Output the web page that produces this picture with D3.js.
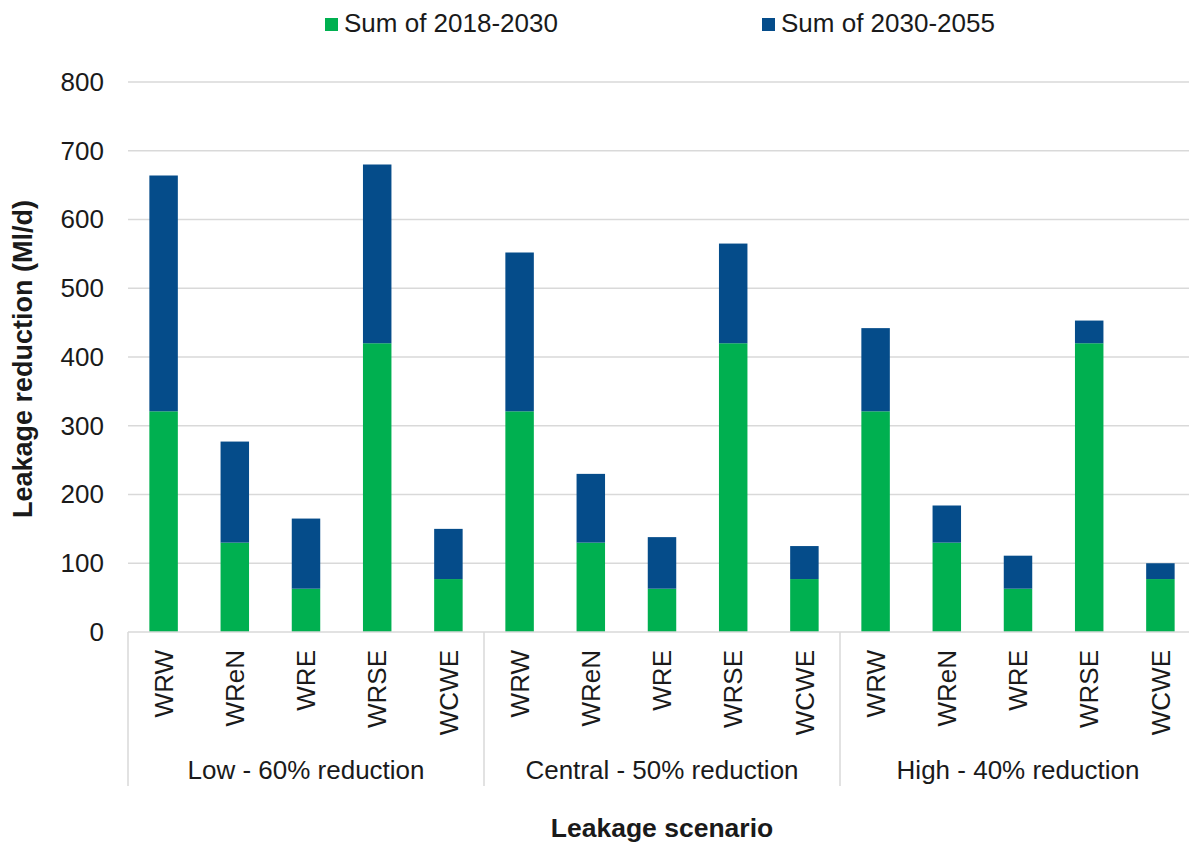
<!DOCTYPE html>
<html>
<head>
<meta charset="utf-8">
<script src="https://cdn.jsdelivr.net/npm/d3@7"></script>
<style>
  html, body { margin: 0; padding: 0; background: #ffffff; }
  svg { display: block; overflow: hidden; }
  text { font-family: "Liberation Sans", Arial, sans-serif; fill: #1a1a1a; }
</style>
</head>
<body>
<svg id="chart" width="1189" height="847"></svg>
<script>
// Leakage reduction by water resource region, grouped by scenario
const scenarios = ["Low - 60% reduction", "Central - 50% reduction", "High - 40% reduction"];
const regions = ["WRW", "WReN", "WRE", "WRSE", "WCWE"];
const seriesNames = ["Sum of 2018-2030", "Sum of 2030-2055"];

// Sum of 2018-2030 (Ml/d), same in every scenario
const sum2018to2030 = [321, 130, 63, 420, 77,
                       321, 130, 63, 420, 77,
                       321, 130, 63, 420, 77];
// Sum of 2030-2055 (Ml/d)
const sum2030to2055 = [343, 147, 102, 260, 73,
                       231, 100, 75, 145, 48,
                       121, 54, 48, 33, 23];

const yTicks = [0, 100, 200, 300, 400, 500, 600, 700, 800];
const colors = ["#00b050", "#054c8a"];

const rows = [];
scenarios.forEach((s, gi) => {
  regions.forEach((r, ri) => {
    const i = gi * regions.length + ri;
    rows.push({ key: s + "|" + r, scenario: s, region: r,
                [seriesNames[0]]: sum2018to2030[i], [seriesNames[1]]: sum2030to2055[i] });
  });
});

const svg = d3.select("#chart");
const margin = { left: 128, top: 82, bottom: 632 };
const plotRight = 1196;

const x = d3.scaleBand()
  .domain(rows.map(d => d.key))
  .range([margin.left, plotRight])
  .paddingInner(0.6)
  .paddingOuter(0.3);

const y = d3.scaleLinear().domain([0, 800]).range([margin.bottom, margin.top]);

// gridlines
svg.append("g")
  .selectAll("line")
  .data(yTicks.filter(t => t > 0))
  .join("line")
  .attr("x1", margin.left).attr("x2", plotRight)
  .attr("y1", d => y(d)).attr("y2", d => y(d))
  .attr("stroke", "#d9d9d9").attr("stroke-width", 1.5);

// y-axis tick labels
const yAxis = d3.axisLeft(y).tickValues(yTicks).tickSize(0).tickPadding(24);
const yg = svg.append("g").attr("transform", `translate(${margin.left},0)`).call(yAxis);
yg.select(".domain").remove();
yg.selectAll("text")
  .attr("font-size", 26)
  .attr("font-family", "Liberation Sans, Arial, sans-serif")
  .attr("fill", "#1a1a1a");

// stacked bars
const stack = d3.stack().keys(seriesNames);
const stacked = stack(rows);

svg.append("g")
  .selectAll("g")
  .data(stacked)
  .join("g")
  .attr("fill", (d, i) => colors[i])
  .selectAll("rect")
  .data(d => d)
  .join("rect")
  .attr("x", d => x(d.data.key))
  .attr("width", x.bandwidth())
  .attr("y", d => y(d[1]))
  .attr("height", d => y(d[0]) - y(d[1]));

// category axis line
svg.append("line")
  .attr("x1", margin.left).attr("x2", plotRight)
  .attr("y1", margin.bottom).attr("y2", margin.bottom)
  .attr("stroke", "#d9d9d9").attr("stroke-width", 1.5);

// group separators
const groupWidth = (plotRight - margin.left) / scenarios.length;
const sepX = d3.range(scenarios.length + 1).map(i => margin.left + i * groupWidth);
svg.append("g")
  .selectAll("line")
  .data(sepX)
  .join("line")
  .attr("x1", d => d).attr("x2", d => d)
  .attr("y1", margin.bottom).attr("y2", 786)
  .attr("stroke", "#d9d9d9").attr("stroke-width", 1.5);

// region labels (rotated)
svg.append("g")
  .selectAll("text")
  .data(rows)
  .join("text")
  .attr("transform", d => `translate(${x(d.key) + x.bandwidth() / 2},650) rotate(-90)`)
  .attr("text-anchor", "end")
  .attr("dy", "0.35em")
  .attr("font-size", 26)
  .text(d => d.region);

// scenario labels
svg.append("g")
  .selectAll("text")
  .data(scenarios)
  .join("text")
  .attr("x", (d, i) => margin.left + (i + 0.5) * groupWidth)
  .attr("y", 779)
  .attr("text-anchor", "middle")
  .attr("font-size", 26)
  .text(d => d);

// axis titles
svg.append("text")
  .attr("x", (margin.left + plotRight) / 2)
  .attr("y", 837)
  .attr("text-anchor", "middle")
  .attr("font-size", 26.5)
  .attr("font-weight", "bold")
  .text("Leakage scenario");

svg.append("text")
  .attr("transform", "translate(32,359) rotate(-90)")
  .attr("text-anchor", "middle")
  .attr("font-size", 27)
  .attr("font-weight", "bold")
  .text("Leakage reduction (Ml/d)");

// legend
const legendX = [325, 762];
const legend = svg.append("g")
  .selectAll("g")
  .data(seriesNames)
  .join("g")
  .attr("transform", (d, i) => `translate(${legendX[i]},0)`);
legend.append("rect")
  .attr("x", 0).attr("y", 18)
  .attr("width", 13).attr("height", 13)
  .attr("fill", (d, i) => colors[i]);
legend.append("text")
  .attr("x", 19).attr("y", 32)
  .attr("font-size", 26)
  .text(d => d);
</script>
</body>
</html>
